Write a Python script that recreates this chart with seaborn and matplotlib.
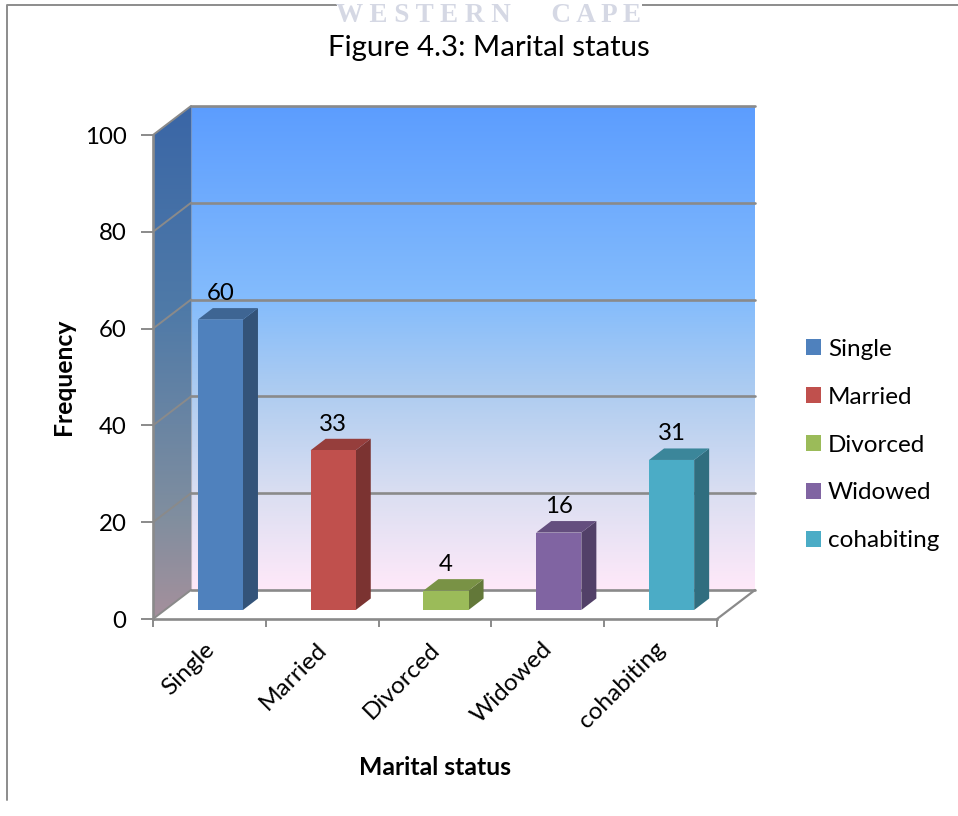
import numpy as np
import matplotlib
matplotlib.use('Agg')
import matplotlib.pyplot as plt
import pandas as pd
import seaborn as sns
from matplotlib.colors import LinearSegmentedColormap, to_rgb
from matplotlib.lines import Line2D
from matplotlib.patches import Patch, Polygon
from matplotlib.transforms import Affine2D

categories = ['Single', 'Married', 'Divorced', 'Widowed', 'cohabiting']
frequency = [60, 33, 4, 16, 31]
bar_colors = ['#4f81bd', '#c0504d', '#9bbb59', '#8064a2', '#4bacc6']
y_ticks = [0, 20, 40, 60, 80, 100]

GREY = '#8a8a8a'

sns.set_theme(style='white')
plt.rcParams['font.family'] = ['Lato', 'DejaVu Sans']
plt.rcParams['text.color'] = 'black'
plt.rcParams['axes.labelcolor'] = 'black'
plt.rcParams['xtick.labelcolor'] = 'black'
plt.rcParams['ytick.labelcolor'] = 'black'

fig = plt.figure(figsize=(9.58, 8.16), dpi=100, facecolor='white')
ax = fig.add_axes([153 / 958, (816 - 619) / 816, 564 / 958, 484 / 816])
ax.patch.set_visible(False)

df = pd.DataFrame({'status': categories, 'freq': frequency})
sns.barplot(data=df, x='status', y='freq', hue='status', palette=bar_colors, saturation=1,
            dodge=False, width=0.4, legend=False, ax=ax, zorder=5)
ax.set_xlim(-0.5, 4.5)
ax.set_ylim(0, 100)

# pixels to data units, for the fake 3d depth
px_x = 5 / 564
px_y = 100 / 484
wall_dx, wall_dy = 38 * px_x, 29 * px_y
bar_dx, bar_dy = 15 * px_x, 11.5 * px_y

# back wall
back_cmap = LinearSegmentedColormap.from_list('back', [
    (0.0, '#ffe9f9'), (0.19, '#dcdff2'), (0.40, '#b0cdf0'),
    (0.60, '#84bcfc'), (1.0, '#5c9dff')])
grad = np.linspace(0, 1, 256).reshape(-1, 1)
ax.imshow(grad, cmap=back_cmap, origin='lower', aspect='auto', zorder=0,
          extent=(-0.5 + wall_dx, 4.5 + wall_dx, wall_dy, 100 + wall_dy)).set_clip_box(fig.bbox)

# side wall
side_cmap = LinearSegmentedColormap.from_list('side', [
    (0.0, '#a5909c'), (0.2, '#808e9f'), (0.6, '#4f7aa8'), (1.0, '#3a66a6')])
side_img = ax.imshow(grad, cmap=side_cmap, origin='lower', aspect='auto', zorder=0,
                     extent=(-0.5, -0.5 + wall_dx, 0, 100 + wall_dy))
side_clip = Polygon([(-0.5, 0), (-0.5 + wall_dx, wall_dy), (-0.5 + wall_dx, 100 + wall_dy), (-0.5, 100)],
                    transform=ax.transData)
side_img.set_clip_path(side_clip)
side_img.set_clip_box(fig.bbox)
ax.set_xlim(-0.5, 4.5)
ax.set_ylim(0, 100)

# gridlines and the diagonals on the side wall and the floor
for t in y_ticks:
    ax.add_line(Line2D([-0.5 + wall_dx, 4.5 + wall_dx], [t + wall_dy, t + wall_dy], color=GREY,
                       lw=1.9, zorder=2, clip_on=False))
    ax.add_line(Line2D([-0.5, -0.5 + wall_dx], [t, t + wall_dy], color=GREY, lw=1.4, zorder=2, clip_on=False))
ax.add_line(Line2D([4.5, 4.5 + wall_dx], [0, wall_dy], color=GREY, lw=1.6, zorder=2, clip_on=False))
ax.add_line(Line2D([-0.5 + wall_dx] * 2, [wall_dy, 100 + wall_dy], color=GREY, lw=0.8, alpha=0.5, zorder=2, clip_on=False))

# extrude the bars, front face moved back a little from the axis plane
front_shift = ax.transData + Affine2D().translate(11, 9)
for patch, col in zip(ax.patches, bar_colors):
    patch.set_transform(front_shift)
    patch.set_clip_on(False)
    patch.set_edgecolor('none')
    x0, w, h = patch.get_x(), patch.get_width(), patch.get_height()
    rgb = np.array(to_rgb(col))
    side = [(x0 + w, 0), (x0 + w + bar_dx, bar_dy), (x0 + w + bar_dx, h + bar_dy), (x0 + w, h)]
    top = [(x0, h), (x0 + bar_dx, h + bar_dy), (x0 + w + bar_dx, h + bar_dy), (x0 + w, h)]
    ax.add_patch(Polygon(side, closed=True, fc=rgb * 0.64, ec='none', transform=front_shift, zorder=4, clip_on=False))
    ax.add_patch(Polygon(top, closed=True, fc=rgb * 0.78, ec='none', transform=front_shift, zorder=4, clip_on=False))

for i, v in enumerate(frequency):
    ax.annotate(str(v), (i, v), xytext=(11, 35), textcoords='offset pixels', ha='center', va='center',
                fontsize=17.3, color='black', zorder=7, annotation_clip=False)

# axes
for s in ['top', 'right']:
    ax.spines[s].set_visible(False)
for s in ['left', 'bottom']:
    ax.spines[s].set_color(GREY)
    ax.spines[s].set_linewidth(1.9)
    ax.spines[s].set_zorder(3)

ax.set_yticks(y_ticks)
ax.set_xticks(range(len(categories)))
ax.set_xticklabels(categories, rotation=45, ha='right', rotation_mode='anchor')
ax.set_xticks(np.arange(-0.5, 5), minor=True)
ax.tick_params(axis='x', which='major', length=0, pad=14, labelsize=17.6)
ax.tick_params(axis='x', which='minor', length=5.5, width=1.4, color=GREY, bottom=True)
ax.tick_params(axis='y', which='major', length=8.5, width=1.4, color=GREY, pad=10.5, labelsize=17.3, left=True)
for lab in ax.get_xticklabels():
    lab.set_transform(lab.get_transform() + Affine2D().translate(-6, 0))
ax.set_xlabel('Marital status', fontsize=17.8, fontweight='bold', labelpad=17)
ax.set_ylabel('Frequency', fontsize=17.8, fontweight='bold', labelpad=7)

handles = [Patch(fc=c, ec='none') for c in bar_colors]
fig.legend(handles, categories, loc='center left', bbox_to_anchor=(806 / 958, 1 - 445 / 816),
           frameon=False, fontsize=17.5, handlelength=0.62, handleheight=0.62, handletextpad=0.29,
           labelspacing=1.11, borderpad=0, borderaxespad=0)

fig.text(489 / 958, 1 - 48 / 816, 'Figure 4.3: Marital status', ha='center', va='center', fontsize=21.2)
fig.text(489 / 958, 1 - 22 / 816, 'W E S T E R N      C A P E', ha='center', va='baseline', fontsize=19.5,
         family=['Liberation Serif'], fontweight='bold', color='#d5d8e4',
         bbox=dict(fc='white', ec='none', pad=0), zorder=4)

# page frame at left and top
fig.add_artist(Line2D([7 / 958, 7 / 958, 1], [1 - 800 / 816, 1 - 4.5 / 816, 1 - 4.5 / 816], color='#8c8c8c', lw=1.4))

fig.savefig('out.png', dpi=100, facecolor='white')
